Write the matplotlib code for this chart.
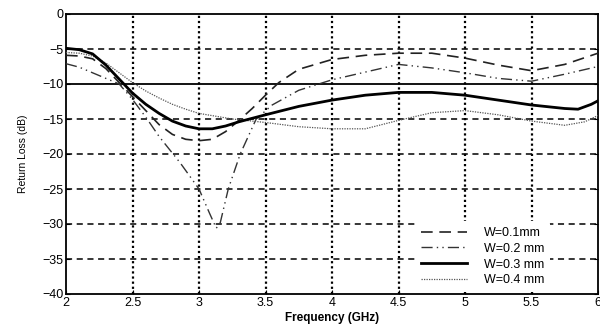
import matplotlib
matplotlib.use("Agg")
import matplotlib.pyplot as plt

plt.rcParams['font.family'] = ['Liberation Sans', 'DejaVu Sans']

# Return loss curves (GHz, dB)
freq_w01 = [2.0, 2.1, 2.2, 2.3, 2.4, 2.5, 2.6, 2.7, 2.8, 2.9, 3.0, 3.1, 3.2, 3.3, 3.4, 3.5,
            3.6, 3.75, 4.0, 4.25, 4.5, 4.75, 5.0, 5.25, 5.5, 5.75, 6.0]
loss_w01 = [-5.9, -6.0, -6.4, -7.8, -9.8, -11.8, -13.8, -15.8, -17.2, -17.9, -18.1, -17.9, -16.8,
            -15.2, -13.5, -11.6, -9.8, -7.9, -6.5, -5.9, -5.6, -5.6, -6.3, -7.3, -8.1, -7.2, -5.6]

freq_w02 = [2.0, 2.1, 2.2, 2.3, 2.4, 2.5, 2.61, 2.7, 2.86, 3.0, 3.08, 3.13, 3.16, 3.22, 3.31,
            3.43, 3.55, 3.75, 4.0, 4.25, 4.5, 4.75, 5.0, 5.25, 5.5, 5.75, 6.0]
loss_w02 = [-7.1, -7.6, -8.4, -9.2, -10.0, -12.2, -15.0, -17.5, -21.3, -25.0, -28.5, -30.6, -29.8,
            -25.0, -20.0, -15.0, -13.0, -10.9, -9.4, -8.3, -7.2, -7.7, -8.4, -9.2, -9.6, -8.6, -7.5]

freq_w03 = [2.0, 2.1, 2.2, 2.3, 2.4, 2.5, 2.6, 2.7, 2.8, 2.9, 3.0, 3.1, 3.2, 3.3, 3.4, 3.5,
            3.75, 4.0, 4.25, 4.5, 4.75, 5.0, 5.25, 5.5, 5.75, 5.85, 5.95, 6.0]
loss_w03 = [-4.9, -5.1, -5.7, -7.3, -9.3, -11.3, -12.9, -14.2, -15.3, -16.0, -16.4, -16.4, -16.0,
            -15.4, -14.9, -14.4, -13.2, -12.3, -11.6, -11.2, -11.2, -11.6, -12.3, -13.0, -13.5,
            -13.6, -12.9, -12.4]

freq_w04 = [2.0, 2.1, 2.2, 2.3, 2.4, 2.5, 2.6, 2.7, 2.8, 2.9, 3.0, 3.25, 3.5, 3.75, 4.0, 4.25,
            4.5, 4.75, 5.0, 5.25, 5.5, 5.75, 5.9, 6.0]
loss_w04 = [-5.5, -5.6, -6.0, -7.0, -8.4, -9.8, -11.0, -12.0, -12.9, -13.6, -14.2, -15.0, -15.5,
            -16.1, -16.4, -16.4, -15.2, -14.1, -13.8, -14.4, -15.3, -15.9, -15.4, -14.5]

labels = ["W=0.1mm", "W=0.2 mm", "W=0.3 mm", "W=0.4 mm"]

x_ticks = [2, 2.5, 3, 3.5, 4, 4.5, 5, 5.5, 6]
x_tick_labels = ["2", "2.5", "3", "3.5", "4", "4.5", "5", "5.5", "6"]
y_ticks = [0, -5, -10, -15, -20, -25, -30, -35, -40]

fig = plt.figure(figsize=(6.0, 3.28), dpi=100)
ax = fig.add_axes([66 / 600, 34 / 328, 532 / 600, 280 / 328])

# grid: dashed horizontals, dotted verticals, solid -10 dB reference
for yv in y_ticks[1:-1]:
    if yv == -10:
        ax.axhline(yv, color='black', lw=1.3, zorder=1)
    else:
        ax.axhline(yv, color='black', lw=1.1, ls=(0, (4, 3)), zorder=1)
for xv in x_ticks[1:-1]:
    ax.axvline(xv, color='black', lw=1.6, ls=(0, (1, 1.3)), zorder=1)

ax.plot(freq_w01, loss_w01, color='#222222', lw=1.2, ls=(0, (7, 4)), label=labels[0], zorder=3)
ax.plot(freq_w02, loss_w02, color='#333333', lw=1.0, ls=(0, (8, 3, 1, 3, 1, 3)), label=labels[1], zorder=3)
ax.plot(freq_w03, loss_w03, color='black', lw=2.0, label=labels[2], zorder=4)
ax.plot(freq_w04, loss_w04, color='#555555', lw=0.9, ls=(0, (1, 1)), label=labels[3], zorder=3)

ax.set_xlim(2, 6)
ax.set_ylim(-40, 0)
ax.set_xticks(x_ticks)
ax.set_xticklabels(x_tick_labels)
ax.set_yticks(y_ticks)
ax.tick_params(direction='in', length=3, labelsize=9, pad=2, right=True, top=False)
for s in ax.spines.values():
    s.set_linewidth(1.3)

ax.set_xlabel("Frequency (GHz)", fontsize=8.5, fontweight='bold', labelpad=2)
ax.set_ylabel("Return Loss (dB)", fontsize=7.5, labelpad=10)

leg = ax.legend(loc='lower left', bbox_to_anchor=(0.645, -0.015), fontsize=9, frameon=True,
                framealpha=1, edgecolor='none', facecolor='white', handlelength=3.7,
                labelspacing=0.3, borderpad=0.45, handletextpad=1.3)
leg.set_zorder(5)

fig.savefig("out.png", dpi=100)
